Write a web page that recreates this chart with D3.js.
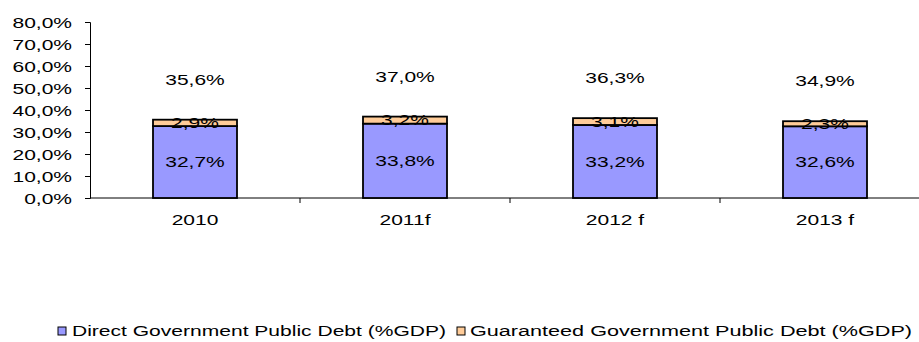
<!DOCTYPE html>
<html>
<head>
<meta charset="utf-8">
<script src="https://cdn.jsdelivr.net/npm/d3@7"></script>
<style>
  html, body { margin: 0; padding: 0; background: #fff; }
  svg { display: block; }
  text { font-family: "Liberation Sans", Arial, sans-serif; font-size: 14px; fill: #000; }
</style>
</head>
<body>
<svg id="chart" width="919" height="342"></svg>
<script>
// Public debt as % of GDP
const categories = ["2010", "2011f", "2012 f", "2013 f"];
const direct     = [32.7, 33.8, 33.2, 32.6];
const guaranteed = [2.9, 3.2, 3.1, 2.3];
const totals     = [35.6, 37.0, 36.3, 34.9];
const yTicks     = [0, 10, 20, 30, 40, 50, 60, 70, 80];
const seriesNames = [
  "Direct Government Public Debt (%GDP)",
  "Guaranteed Government Public Debt (%GDP)"
];
const colors = ["#9999FF", "#FFCC99"];

const SX = 1.5; // horizontal text stretch
const fmt = v => v.toFixed(1).replace(".", ",") + "%";

const svg = d3.select("#chart");
const plot = { left: 90, right: 930, top: 22, bottom: 198 };

const x = d3.scaleBand()
  .domain(categories)
  .range([plot.left, plot.right])
  .paddingInner(0.6)
  .paddingOuter(0.3);

const y = d3.scaleLinear().domain([0, 80]).range([plot.bottom, plot.top]);

// stretch a text node horizontally around its anchor point
function stretch(sel) {
  sel.each(function () {
    const t = d3.select(this);
    const tx = +t.attr("x") || 0;
    const ty = +t.attr("y") || 0;
    t.attr("x", 0).attr("y", 0)
     .attr("transform", `translate(${tx},${ty}) scale(${SX},1)`);
  });
}

// y axis
const yAxis = svg.append("g")
  .attr("transform", `translate(${plot.left},0)`)
  .call(d3.axisLeft(y).tickValues(yTicks).tickFormat(fmt).tickSize(5).tickPadding(13));
yAxis.select(".domain").attr("stroke", "#000");
yAxis.selectAll(".tick line").attr("stroke", "#000");
yAxis.selectAll(".tick text")
  .attr("font-size", null).attr("font-family", null)
  .attr("dy", "0.36em")
  .call(stretch);

// x axis: baseline, boundary ticks, category labels
const xAxis = svg.append("g")
  .attr("transform", `translate(0,${plot.bottom})`)
  .call(d3.axisBottom(x).tickSize(0).tickPadding(17).tickSizeOuter(0));
xAxis.select(".domain").remove();
xAxis.selectAll(".tick text")
  .attr("font-size", null).attr("font-family", null)
  .call(stretch);

svg.append("line")
  .attr("x1", plot.left).attr("x2", 919)
  .attr("y1", plot.bottom).attr("y2", plot.bottom)
  .attr("stroke", "#000");

const step = x.step();
const boundaries = d3.range(0, categories.length).map(i => plot.left + i * step);
svg.selectAll(".btick")
  .data(boundaries.slice(1))
  .join("line")
  .attr("x1", d => d).attr("x2", d => d)
  .attr("y1", plot.bottom).attr("y2", plot.bottom + 5)
  .attr("stroke", "#000");

// stacked bars
const rows = categories.map((c, i) => ({ cat: c, direct: direct[i], guaranteed: guaranteed[i], total: totals[i] }));
const stack = d3.stack().keys(["direct", "guaranteed"])(rows);

stack.forEach((layer, li) => {
  const g = svg.append("g");
  g.selectAll("rect")
    .data(layer)
    .join("rect")
    .attr("x", d => x(d.data.cat))
    .attr("width", x.bandwidth())
    .attr("y", d => y(d[1]))
    .attr("height", d => y(d[0]) - y(d[1]))
    .attr("fill", colors[li])
    .attr("stroke", "#000")
    .attr("stroke-width", 1.8);
});

// segment value labels
stack.forEach((layer, li) => {
  svg.append("g").selectAll("text")
    .data(layer)
    .join("text")
    .attr("x", d => x(d.data.cat) + x.bandwidth() / 2)
    .attr("y", d => y((d[0] + d[1]) / 2))
    .attr("dy", "0.36em")
    .attr("text-anchor", "middle")
    .text(d => fmt(d[1] - d[0]))
    .call(stretch);
});

// totals above bars
svg.append("g").selectAll("text")
  .data(rows)
  .join("text")
  .attr("x", d => x(d.cat) + x.bandwidth() / 2)
  .attr("y", d => y(d.total) - 40)
  .attr("dy", "0.36em")
  .attr("text-anchor", "middle")
  .text(d => fmt(d.total))
  .call(stretch);

// legend
const legendItems = [
  { sq: 58, tx: 72, len: 374 },
  { sq: 457, tx: 470, len: 442 }
];
const lg = svg.append("g");
legendItems.forEach((it, i) => {
  lg.append("rect")
    .attr("x", it.sq).attr("y", 327).attr("width", 8).attr("height", 8)
    .attr("fill", colors[i]).attr("stroke", "#000").attr("stroke-width", 1);
  lg.append("text")
    .attr("x", it.tx).attr("y", 331).attr("dy", "0.36em")
    .attr("textLength", it.len).attr("lengthAdjust", "spacingAndGlyphs")
    .text(seriesNames[i]);
});
</script>
</body>
</html>
